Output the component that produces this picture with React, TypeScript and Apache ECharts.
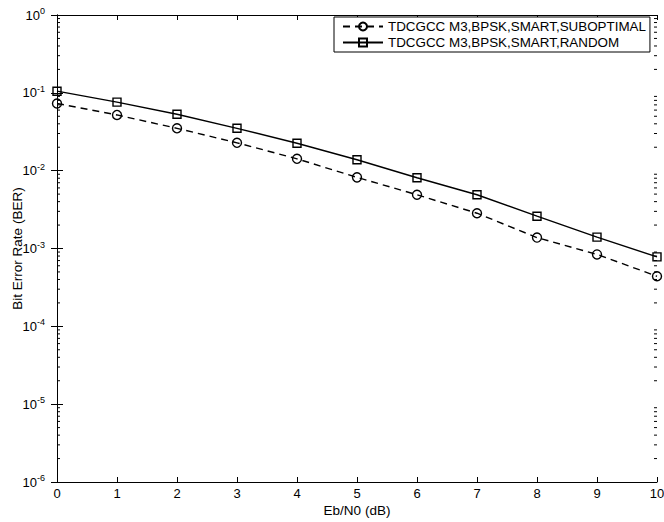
import React, { useEffect, useRef } from "react";
import * as echarts from "echarts";

const xValues = [0, 1, 2, 3, 4, 5, 6, 7, 8, 9, 10];
const suboptimal = [0.073, 0.052, 0.035, 0.0228, 0.0142, 0.0082, 0.0049, 0.00284, 0.00138, 0.00084, 0.00044];
const random = [0.105, 0.076, 0.053, 0.035, 0.0225, 0.0138, 0.0081, 0.0049, 0.0026, 0.0014, 0.00078];
const seriesNames = ["TDCGCC M3,BPSK,SMART,SUBOPTIMAL", "TDCGCC M3,BPSK,SMART,RANDOM"];
const decades = [-6, -5, -4, -3, -2, -1];
const minorMultipliers = [2, 3, 4, 5, 6, 7, 8, 9];

const FONT = "Liberation Sans, Arial, Helvetica, sans-serif";

export default function App() {
  const ref = useRef<HTMLDivElement>(null);
  useEffect(() => {
    if (!ref.current) return;
    const chart = echarts.init(ref.current, null, { renderer: "svg" });
    const minorVals: number[][] = [];
    decades.forEach((d) => minorMultipliers.forEach((m) => minorVals.push([0, m * Math.pow(10, d)])));
    const yFmt = (v: number) => {
      const e = Math.round(Math.log10(v));
      return `{b|10}{s|${e}}`;
    };
    const rich = {
      b: { fontSize: 13, fontFamily: FONT, color: "#000" },
      s: { fontSize: 9, fontFamily: FONT, color: "#000", padding: [0, 0, 8, 0] },
    };
    const axisLine = { show: true, lineStyle: { color: "#000", width: 1 } };
    const option: any = {
      animation: false,
      backgroundColor: "#fff",
      textStyle: { fontFamily: FONT },
      grid: { left: 57, right: 7, top: 15, bottom: 40, containLabel: false, outerBoundsMode: "none" },
      legend: {
        data: seriesNames,
        orient: "vertical",
        left: 334,
        top: 17,
        backgroundColor: "#fff",
        borderColor: "#000",
        borderWidth: 1,
        borderRadius: 0,
        padding: [3, 4, 3, 8],
        itemGap: 3,
        itemWidth: 40,
        itemHeight: 10,
        textStyle: { fontSize: 13.4, color: "#000", fontFamily: FONT },
      },
      xAxis: [
        {
          type: "value",
          min: 0,
          max: 10,
          interval: 1,
          name: "Eb/N0 (dB)",
          nameLocation: "middle",
          nameGap: 21,
          nameMoveOverlap: false,
          nameTextStyle: { fontSize: 13.5, color: "#000", fontFamily: FONT },
          axisLine,
          axisTick: { inside: true, length: 5, lineStyle: { color: "#000" } },
          axisLabel: { fontSize: 13, color: "#000", margin: 5, fontFamily: FONT },
          splitLine: { show: false },
        },
        {
          type: "value",
          position: "top",
          min: 0,
          max: 10,
          interval: 1,
          axisLine,
          axisTick: { inside: true, length: 5, lineStyle: { color: "#000" } },
          axisLabel: { show: false },
          splitLine: { show: false },
        },
      ],
      yAxis: [
        {
          type: "log",
          logBase: 10,
          min: 1e-6,
          max: 1,
          splitNumber: 6,
          name: "Bit Error Rate (BER)",
          nameLocation: "middle",
          nameGap: 33,
          nameMoveOverlap: false,
          nameTextStyle: { fontSize: 13.5, color: "#000000", fontFamily: FONT },
          axisLine,
          axisTick: { inside: true, length: 6, lineStyle: { color: "#000" } },
          axisLabel: { formatter: yFmt, rich, margin: 12 },
          splitLine: { show: false },
        },
        {
          type: "log",
          logBase: 10,
          min: 1e-6,
          max: 1,
          splitNumber: 6,
          position: "right",
          axisLine,
          axisTick: { inside: true, length: 6, lineStyle: { color: "#000" } },
          axisLabel: { show: false },
          splitLine: { show: false },
        },
      ],
      series: [
        {
          name: seriesNames[0],
          type: "line",
          data: xValues.map((x, i) => [x, suboptimal[i]]),
          symbol: "circle",
          symbolSize: 9,
          lineStyle: { color: "#000", width: 1.4, type: [7, 5] },
          itemStyle: { color: "rgba(0,0,0,0)", borderColor: "#000", borderWidth: 1.4 },
          z: 3,
        },
        {
          name: seriesNames[1],
          type: "line",
          data: xValues.map((x, i) => [x, random[i]]),
          symbol: "rect",
          symbolSize: 8,
          lineStyle: { color: "#000", width: 1.4, type: "solid" },
          itemStyle: { color: "rgba(0,0,0,0)", borderColor: "#000", borderWidth: 1.4 },
          z: 3,
        },
        {
          name: "minorTicks",
          type: "custom",
          data: minorVals,
          encode: { x: 0, y: 1 },
          clip: false,
          silent: true,
          renderItem: (params: any, api: any) => {
            const v = api.value(1);
            const pl = api.coord([0, v]);
            const pr = api.coord([10, v]);
            const style = { stroke: "#000", lineWidth: 1 };
            return {
              type: "group",
              children: [
                { type: "line", shape: { x1: pl[0], y1: pl[1], x2: pl[0] + 3, y2: pl[1] }, style },
                { type: "line", shape: { x1: pr[0], y1: pr[1], x2: pr[0] - 3, y2: pr[1] }, style },
              ],
            };
          },
        },
      ],
    };
    chart.setOption(option);
    return () => chart.dispose();
  }, []);
  return <div ref={ref} style={{ position: "fixed", left: 0, top: 0, width: 664, height: 522 }} />;
}
